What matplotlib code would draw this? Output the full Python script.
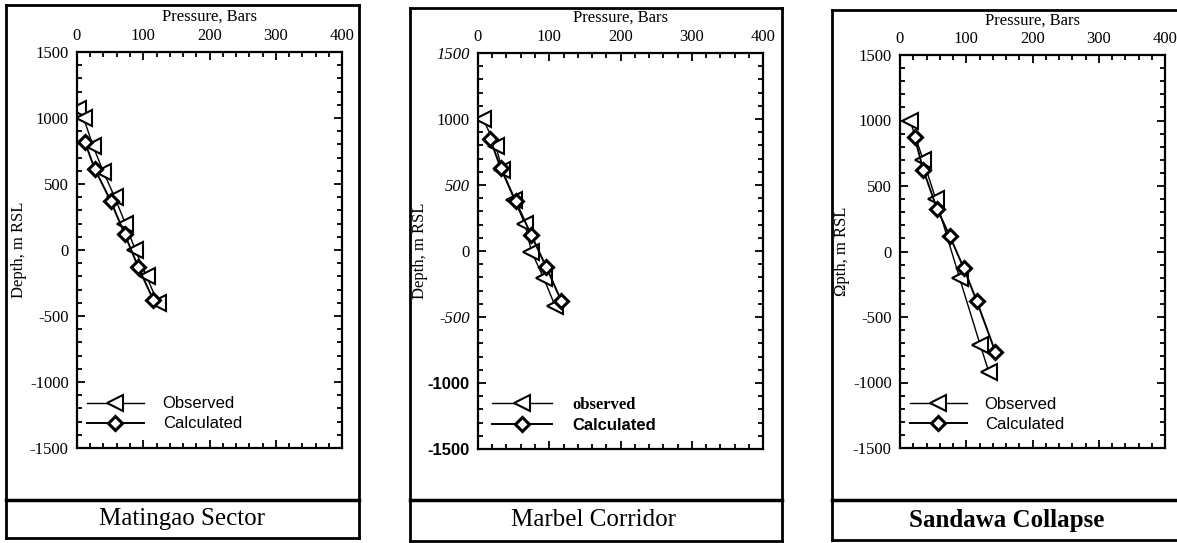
"""Observed vs calculated pressure-depth profiles for three sectors."""

import matplotlib.pyplot as plt
from matplotlib.lines import Line2D
from matplotlib.ticker import MultipleLocator

W, H = 1177, 543

# Matingao Sector
MAT_OBS_P = [2, 10, 24, 40, 57, 73, 88, 105, 122]
MAT_OBS_D = [1070, 1000, 790, 590, 400, 200, 0, -200, -400]
MAT_CALC_P = [12, 27, 51, 72, 92, 115]
MAT_CALC_D = [815, 612, 370, 120, -125, -375]

# Marbel Corridor
MAR_OBS_P = [7, 25, 34, 51, 66, 75, 92, 108]
MAR_OBS_D = [1000, 797, 613, 389, 205, -5, -203, -413]
MAR_CALC_P = [17, 32, 53, 75, 96, 117]
MAR_CALC_D = [850, 626, 376, 118, -124, -379]

# Sandawa Collapse
SAN_OBS_P = [15, 35, 54, 90, 121, 134]
SAN_OBS_D = [1000, 698, 400, -204, -712, -918]
SAN_CALC_P = [22, 35, 56, 75, 96, 116, 144]
SAN_CALC_D = [876, 624, 325, 119, -124, -381, -767]

X_TICKS = [0, 100, 200, 300, 400]
Y_TICKS = [-1500, -1000, -500, 0, 500, 1000, 1500]

SERIF = "Liberation Serif"
SANS = "Liberation Sans"

PANELS = [
    dict(title="Matingao Sector", title_bold=False, ylabel="Depth, m RSL",
         obs=(MAT_OBS_P, MAT_OBS_D), calc=(MAT_CALC_P, MAT_CALC_D),
         box=(77, 52, 342, 448), ylab_x=-0.189,
         leg=(0.038, 3.4, 1.14), obs_label="Observed",
         obs_font=dict(family=SANS, weight="normal"),
         calc_font=dict(family=SANS, weight="normal")),
    dict(title="Marbel Corridor", title_bold=False, ylabel="Depth, m RSL",
         obs=(MAR_OBS_P, MAR_OBS_D), calc=(MAR_CALC_P, MAR_CALC_D),
         box=(478, 53, 763, 449), ylab_x=-0.175,
         leg=(0.049, 3.6, 1.2), obs_label="observed",
         obs_font=dict(family=SERIF, weight="bold"),
         calc_font=dict(family=SANS, weight="bold")),
    dict(title="Sandawa Collapse", title_bold=True, ylabel="Ωpth, m RSL",
         obs=(SAN_OBS_P, SAN_OBS_D), calc=(SAN_CALC_P, SAN_CALC_D),
         box=(900, 55, 1165, 448), ylab_x=-0.189,
         leg=(0.038, 3.4, 1.08), obs_label="Observed",
         obs_font=dict(family=SANS, weight="normal"),
         calc_font=dict(family=SANS, weight="normal")),
]

# outer frames: (left, top, right, bottom, caption line y, caption centre x)
FRAMES = [
    (6, 5, 359, 538, 500, 182),
    (410, 8, 782, 541, 500, 594),
    (832, 10, 1180, 540, 500, 1007),
]


def fx(px):
    return px / W


def fy(py):
    return 1 - py / H


def frame_line(fig, x0, y0, x1, y1, lw=2.0):
    fig.add_artist(Line2D([fx(x0), fx(x1)], [fy(y0), fy(y1)],
                          transform=fig.transFigure, color="black", lw=lw))


def main() -> None:
    plt.rcParams["axes.unicode_minus"] = False
    fig = plt.figure(figsize=(W / 100, H / 100), dpi=100)
    fig.patch.set_facecolor("white")

    for panel, frame in zip(PANELS, FRAMES):
        x0, y0, x1, y1 = panel["box"]
        ax = fig.add_axes([fx(x0), fy(y1), fx(x1 - x0), (y1 - y0) / H])

        op, od = panel["obs"]
        cp, cd = panel["calc"]
        ax.plot(op, od, color="black", lw=1.0, marker="<", ms=11,
                mfc="white", mec="black", mew=1.5, label=panel["obs_label"])
        ax.plot(cp, cd, color="black", lw=1.4, marker="D", ms=7.5,
                mfc="white", mec="black", mew=2.2, label="Calculated")

        ax.set_xlim(0, 400)
        ax.set_ylim(-1500, 1500)
        ax.set_xticks(X_TICKS)
        ax.set_yticks(Y_TICKS)
        ax.xaxis.set_minor_locator(MultipleLocator(20))
        ax.yaxis.set_minor_locator(MultipleLocator(100))
        ax.xaxis.tick_top()
        ax.tick_params(which="both", direction="in", top=True, bottom=True,
                       left=True, right=True, width=1.3)
        ax.tick_params(which="major", length=6, pad=6, labelsize=12)
        ax.tick_params(which="minor", length=3.5)
        for lab in ax.get_xticklabels() + ax.get_yticklabels():
            lab.set_fontfamily(SERIF)
        if panel["title"] == "Marbel Corridor":
            for lab in ax.get_yticklabels():
                if lab.get_text() in ("-1000", "-1500"):
                    lab.set_fontfamily(SANS)
                    lab.set_fontweight("bold")
                elif lab.get_text() in ("1500", "500", "-500"):
                    lab.set_fontstyle("italic")
        for spine in ax.spines.values():
            spine.set_linewidth(1.6)

        ax.xaxis.set_label_position("top")
        ax.set_xlabel("Pressure, Bars", family=SERIF, fontsize=12)
        ax.xaxis.set_label_coords(0.5, 1.078)
        ax.set_ylabel(panel["ylabel"], family=SERIF, fontsize=12)
        ax.yaxis.set_label_coords(panel["ylab_x"], 0.5)

        lx, hl, tp = panel["leg"]
        leg = ax.legend(loc="center left", bbox_to_anchor=(lx, 0.086),
                        frameon=False, fontsize=12, handlelength=hl,
                        handletextpad=tp, borderpad=0, borderaxespad=0,
                        labelspacing=0.3, numpoints=1)
        texts = leg.get_texts()
        texts[0].set(**panel["obs_font"])
        texts[1].set(**panel["calc_font"])

        left, top, right, bottom, cap_y, cap_x = frame
        frame_line(fig, left, top, right, top)
        frame_line(fig, left, top, left, bottom)
        frame_line(fig, right, top, right, bottom)
        frame_line(fig, left, bottom, right, bottom)
        frame_line(fig, left, cap_y, right, cap_y, lw=2.5)
        fig.text(fx(cap_x), fy((cap_y + bottom) / 2), panel["title"],
                 family=SERIF, fontsize=18,
                 weight="bold" if panel["title_bold"] else "normal",
                 ha="center", va="center")

    fig.savefig("out.png", dpi=100, facecolor="white")
    plt.close(fig)


if __name__ == "__main__":
    main()
